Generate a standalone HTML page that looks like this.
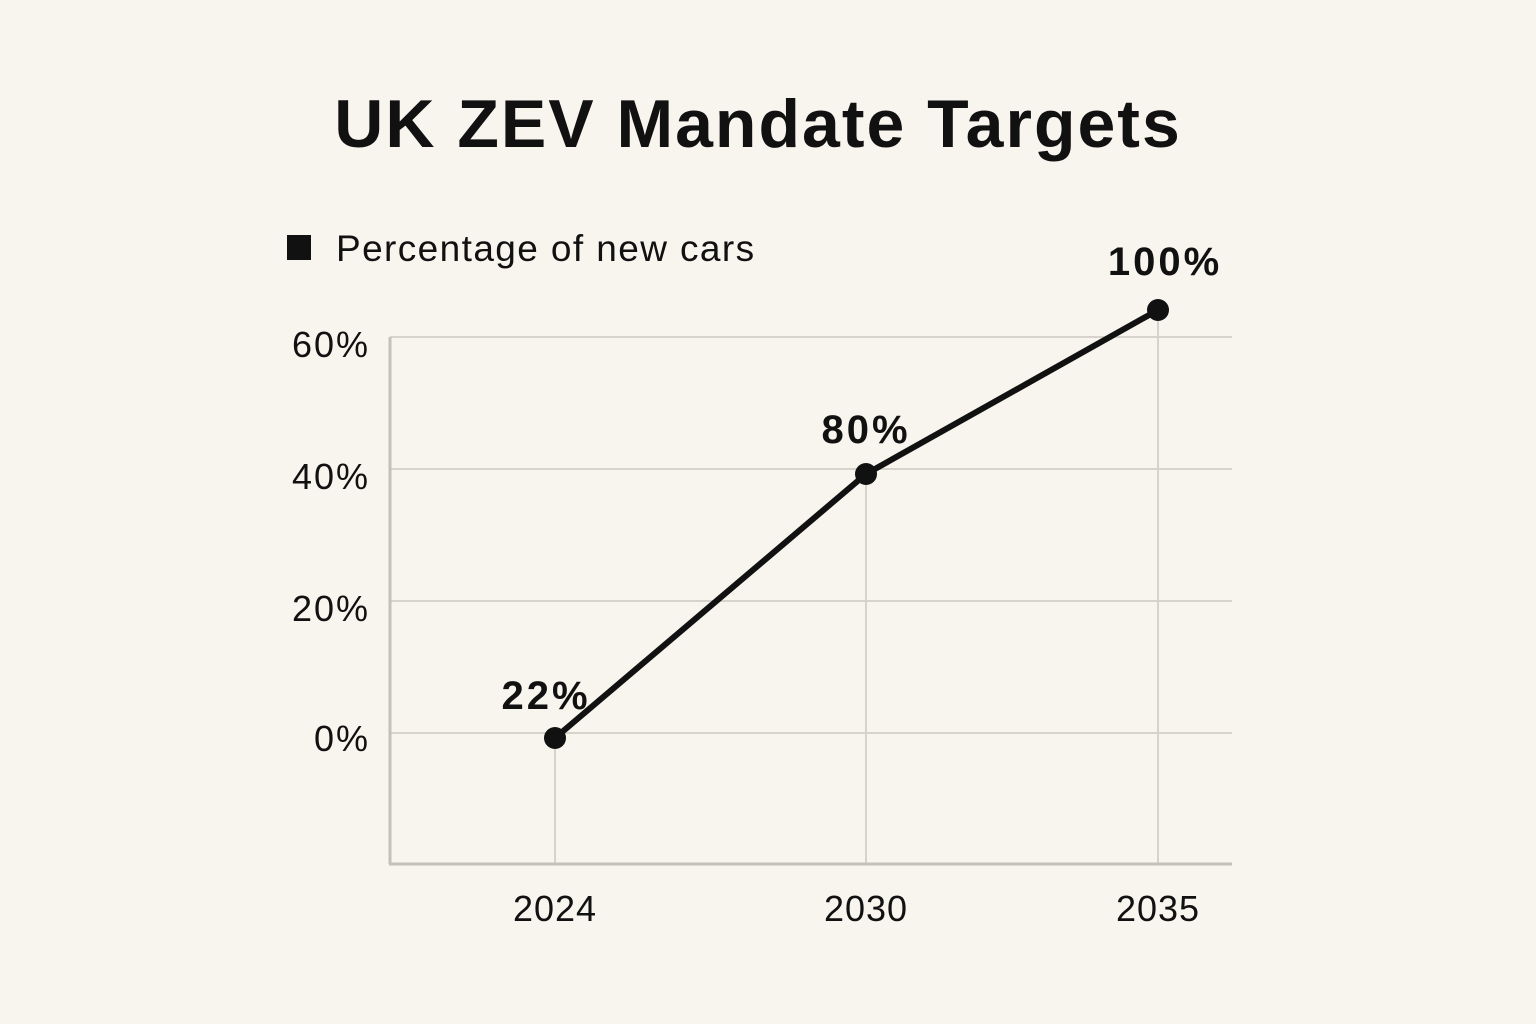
<!DOCTYPE html>
<html><head><style>
body{margin:0;background:#f8f4ee;}
svg{display:block}
text{font-family:"Liberation Sans",sans-serif;fill:#111}
</style></head><body>
<svg width="1536" height="1024" viewBox="0 0 1536 1024">
<rect width="1536" height="1024" fill="#f8f4ee"/>
<text x="758" y="147" font-size="68" font-weight="bold" text-anchor="middle" letter-spacing="2">UK ZEV Mandate Targets</text>
<rect x="287" y="235" width="24" height="25" fill="#111"/>
<text x="336" y="261" font-size="37" letter-spacing="1.4">Percentage of new cars</text>
<g stroke="#d6d2cc" stroke-width="2">
<line x1="390" y1="337" x2="1232" y2="337"/>
<line x1="390" y1="469" x2="1232" y2="469"/>
<line x1="390" y1="601" x2="1232" y2="601"/>
<line x1="390" y1="733" x2="1232" y2="733"/>
<line x1="555" y1="733" x2="555" y2="864"/>
<line x1="866" y1="474" x2="866" y2="864"/>
<line x1="1158" y1="310" x2="1158" y2="864"/>
</g>
<g stroke="#c4c0ba" stroke-width="3"><line x1="390" y1="337" x2="390" y2="864"/><line x1="389" y1="864" x2="1232" y2="864"/></g>
<g font-size="36" text-anchor="end" letter-spacing="2">
<text x="370" y="357">60%</text><text x="370" y="489">40%</text><text x="370" y="621">20%</text><text x="370" y="751">0%</text>
</g>
<g font-size="36" text-anchor="middle" letter-spacing="1">
<text x="555" y="921">2024</text><text x="866" y="921">2030</text><text x="1158" y="921">2035</text>
</g>
<polyline points="555,738 866,474 1158,310" fill="none" stroke="#111" stroke-width="6" stroke-linejoin="round"/>
<g fill="#111"><circle cx="555" cy="738" r="11"/><circle cx="866" cy="474" r="11"/><circle cx="1158" cy="310" r="11"/></g>
<g font-size="40" font-weight="bold" text-anchor="middle" letter-spacing="3">
<text x="546" y="709">22%</text><text x="866" y="443">80%</text><text x="1165" y="275">100%</text>
</g>
</svg>
</body></html>
